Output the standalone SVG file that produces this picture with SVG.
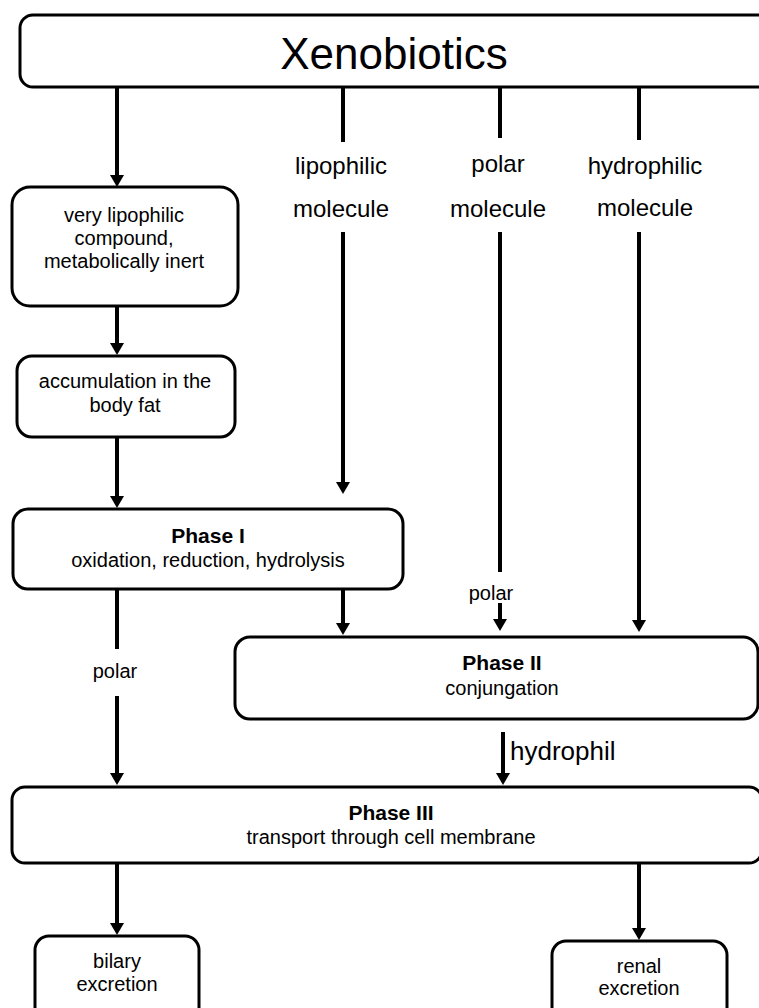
<svg xmlns="http://www.w3.org/2000/svg" width="759" height="1008" viewBox="0 0 759 1008">
<style>
.box{fill:#fff;stroke:#000;stroke-width:3}
.t{font-family:"Liberation Sans",Arial,sans-serif;fill:#000;text-anchor:middle}
.b{font-weight:bold}
.c{stroke:#000;stroke-width:4;fill:none}
.a{stroke:#000;stroke-width:4;fill:none;marker-end:url(#ah)}
</style>
<defs>
<marker id="ah" markerUnits="userSpaceOnUse" markerWidth="12" markerHeight="14" refX="0" refY="7" orient="auto" viewBox="0 0 12 14">
<path d="M0,0 L12,7 L0,14 z" fill="#000"/>
</marker>
</defs>
<rect width="759" height="1008" fill="#fff"/>
<g id="connectors">
<line class="a" x1="117" y1="87" x2="117" y2="175"/>
<line class="a" x1="117" y1="306" x2="117" y2="343"/>
<line class="a" x1="117" y1="437" x2="117" y2="496"/>
<line class="c" x1="343" y1="87" x2="343" y2="142"/>
<line class="a" x1="343" y1="232" x2="343" y2="482"/>
<line class="c" x1="500" y1="87" x2="500" y2="138"/>
<line class="c" x1="500" y1="232" x2="500" y2="572"/>
<line class="a" x1="500" y1="603" x2="500" y2="619"/>
<line class="c" x1="639" y1="87" x2="639" y2="140"/>
<line class="a" x1="639" y1="232" x2="639" y2="620"/>
<line class="a" x1="343" y1="589" x2="343" y2="623"/>
<line class="c" x1="117" y1="589" x2="117" y2="649"/>
<line class="a" x1="117" y1="696" x2="117" y2="773"/>
<line class="a" x1="503" y1="732" x2="503" y2="773"/>
<line class="a" x1="117" y1="863" x2="117" y2="923"/>
<line class="a" x1="639" y1="863" x2="639" y2="928"/>
<text class="t" x="341" y="174" font-size="24">lipophilic</text>
<text class="t" x="341" y="217" font-size="24">molecule</text>
<text class="t" x="498" y="172" font-size="24">polar</text>
<text class="t" x="498" y="217" font-size="24">molecule</text>
<text class="t" x="645" y="174" font-size="24">hydrophilic</text>
<text class="t" x="645" y="216" font-size="24">molecule</text>
<text class="t" x="115" y="678" font-size="20">polar</text>
<text class="t" x="491" y="600" font-size="20">polar</text>
<text class="t" x="510" y="760" font-size="26" style="text-anchor:start">hydrophil</text>
</g>
<g id="xenobiotics">
<rect class="box" x="20" y="15" width="760" height="72" rx="13"/>
<text class="t" x="394" y="69" font-size="44">Xenobiotics</text>
</g>
<g id="very-lipophilic">
<rect class="box" x="12" y="187" width="226" height="119" rx="18"/>
<text class="t" x="124" y="222" font-size="20">very lipophilic</text>
<text class="t" x="124" y="245" font-size="20">compound,</text>
<text class="t" x="124" y="268" font-size="20">metabolically inert</text>
</g>
<g id="accumulation">
<rect class="box" x="17" y="356" width="218" height="81" rx="15"/>
<text class="t" x="125" y="388" font-size="20">accumulation in the</text>
<text class="t" x="125" y="412" font-size="20">body fat</text>
</g>
<g id="phase1">
<rect class="box" x="13" y="509" width="390" height="80" rx="15"/>
<text class="t b" x="208" y="543" font-size="21">Phase I</text>
<text class="t" x="208" y="567" font-size="20">oxidation, reduction, hydrolysis</text>
</g>
<g id="phase2">
<rect class="box" x="235" y="637" width="523" height="82" rx="15"/>
<text class="t b" x="502" y="670" font-size="21">Phase II</text>
<text class="t" x="502" y="695" font-size="20">conjungation</text>
</g>
<g id="phase3">
<rect class="box" x="12" y="787" width="750" height="76" rx="13"/>
<text class="t b" x="391" y="820" font-size="21">Phase III</text>
<text class="t" x="391" y="844" font-size="20">transport through cell membrane</text>
</g>
<g id="bilary">
<rect class="box" x="35" y="936" width="164" height="90" rx="14"/>
<text class="t" x="117" y="968" font-size="20">bilary</text>
<text class="t" x="117" y="991" font-size="20">excretion</text>
</g>
<g id="renal">
<rect class="box" x="552" y="941" width="175" height="90" rx="14"/>
<text class="t" x="639" y="973" font-size="20">renal</text>
<text class="t" x="639" y="995" font-size="20">excretion</text>
</g>
</svg>
